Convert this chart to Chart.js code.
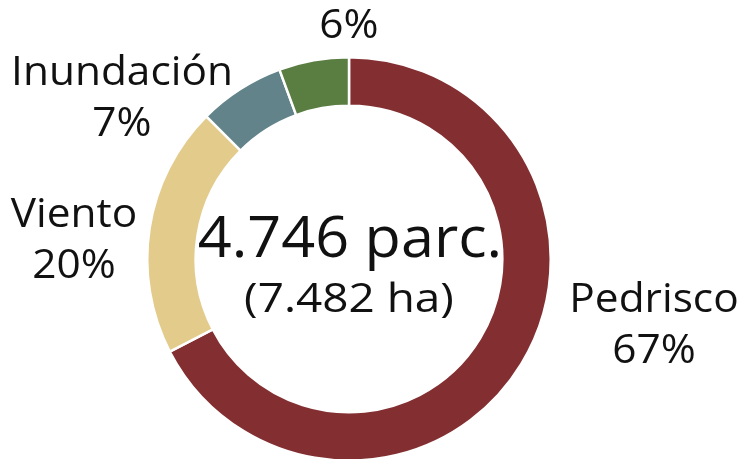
<!DOCTYPE html>
<html>
<head>
<meta charset="utf-8">
<script src="https://cdn.jsdelivr.net/npm/chart.js@4.4.1/dist/chart.umd.min.js"></script>
<style>
  html, body { margin: 0; padding: 0; background: #fff; overflow: hidden; }
  #wrap { width: 742px; height: 459px; overflow: hidden; }
</style>
</head>
<body>
<div id="wrap"><canvas id="grafico" width="742" height="462"></canvas></div>
<script>
// datos
const categorias = ['Pedrisco', 'Viento', 'Inundación', ''];
const porcentajes = [67.4, 20.1, 6.9, 5.6];
const etiquetasPct = ['67%', '20%', '7%', '6%'];
const colores = ['#832f31', '#e3cb8c', '#62838a', '#5a7d42'];
const textoCentro = ['4.746 parc.', '(7.482 ha)'];

const fuente = '"Open Sans", sans-serif';
const estirar = 1.06; // la fuente original es algo más ancha

// posiciones (línea base de la primera línea) respecto al centro del anillo
const posEtiquetas = [
    { dx: 305, dy: 53 },
    { dx: -275, dy: -32 },
    { dx: -227, dy: -174 },
    { dx: 0, dy: -272 }
];

function texto(ctx, str, x, y, esc) {
    ctx.save();
    ctx.translate(x, y);
    ctx.scale(esc || estirar, 1);
    ctx.fillText(str, 0, 0);
    ctx.restore();
}

const etiquetasPlugin = {
    id: 'etiquetas',
    afterDraw(chart) {
        const ctx = chart.ctx;
        const arc = chart.getDatasetMeta(0).data[0];
        const cx = arc.x, cy = arc.y;
        ctx.save();
        ctx.fillStyle = '#111';
        ctx.textAlign = 'center';
        ctx.textBaseline = 'alphabetic';

        // texto central
        ctx.font = '400 56px ' + fuente;
        texto(ctx, textoCentro[0], cx + 1, cy - 2);
        ctx.font = '400 41px ' + fuente;
        texto(ctx, textoCentro[1], cx, cy + 53, 1.12);

        // etiquetas exteriores
        ctx.font = '400 40px ' + fuente;
        categorias.forEach((cat, i) => {
            const p = posEtiquetas[i];
            const x = cx + p.dx, y = cy + p.dy;
            if (cat) texto(ctx, cat, x, y);
            texto(ctx, etiquetasPct[i], x, y + 51);
        });
        ctx.restore();
    }
};

new Chart(document.getElementById('grafico'), {
    type: 'doughnut',
    data: {
        labels: categorias,
        datasets: [{
            data: porcentajes,
            backgroundColor: colores,
            borderColor: '#fff',
            borderWidth: 2.5
        }]
    },
    options: {
        responsive: false,
        animation: false,
        cutout: '76%',
        layout: { padding: { top: 56, bottom: 0, left: 0, right: 44 } },
        plugins: { legend: { display: false }, tooltip: { enabled: false } }
    },
    plugins: [etiquetasPlugin]
});
</script>
</body>
</html>
